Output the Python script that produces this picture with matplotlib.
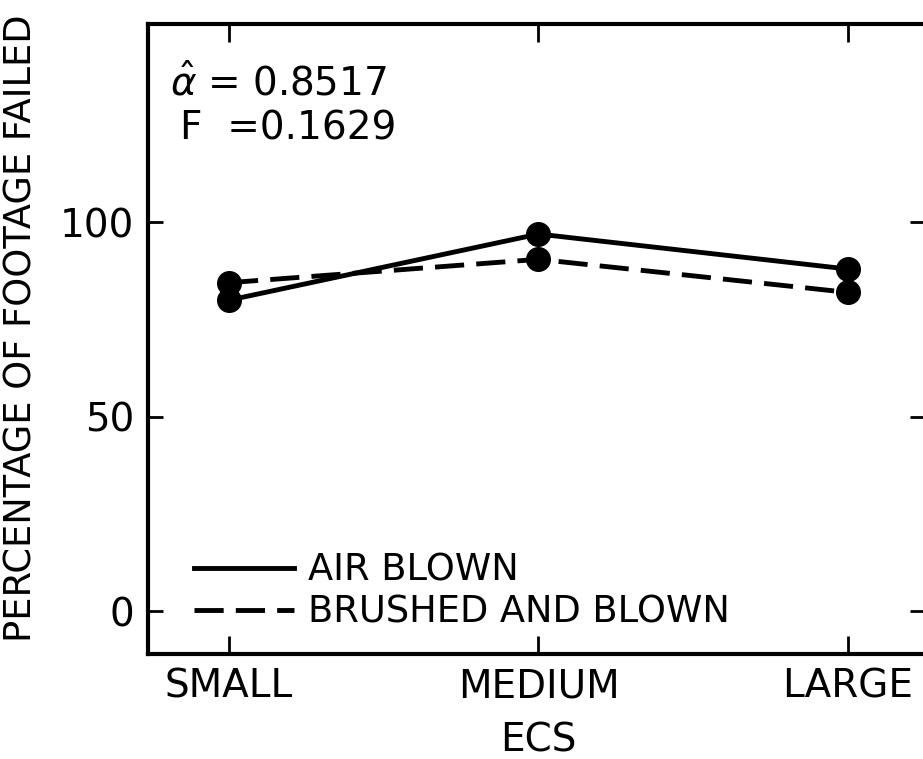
import numpy as np
import matplotlib
matplotlib.use('Agg')
import matplotlib.pyplot as plt
from matplotlib.lines import Line2D

# ECS size classes and percentage of footage failed for each cleaning method
sizes = ['SMALL', 'MEDIUM', 'LARGE']
air_blown = [80, 97, 88]
brushed_blown = [84.5, 90.5, 82]
yticks = [0, 50, 100]

plt.rcParams['font.family'] = ['DejaVu Sans']

W, H = 923, 759
fig = plt.figure(figsize=(W / 100, H / 100), dpi=100)
ax = fig.add_axes([0.1603, 0.1383, 0.8418, 0.830])

dashed = (0, (6, 2.5))
x = np.arange(len(sizes))
ax.plot(x, air_blown, color='black', lw=3.5, marker='o', ms=17)
ax.plot(x, brushed_blown, color='black', lw=3.5, marker='o', ms=17,
        linestyle=dashed)

ax.set_xlim(-0.262, 2.249)
ax.set_ylim(-11, 151)
ax.set_xticks(x, labels=sizes)
ax.set_yticks(yticks, labels=[str(v) for v in yticks])

ax.tick_params(axis='both', direction='in', top=True, right=True,
               width=2, labelsize=28, pad=10)
ax.tick_params(axis='x', length=13)
ax.tick_params(axis='y', length=11)
for s in ax.spines.values():
    s.set_linewidth(3)

ax.set_ylabel('PERCENTAGE OF FOOTAGE FAILED', fontsize=26.5)
ax.yaxis.set_label_coords(-0.139, 0.517)
fig.text(538 / W, 1 - 740 / H, 'ECS', fontsize=28, ha='center', va='center')

# fit statistics, placed by pixel from the top-left corner
fig.text(170 / W, 1 - 95 / H, r'$\hat{\alpha}$ = 0.8517', fontsize=28)
fig.text(180 / W, 1 - 140 / H, 'F  =0.1629', fontsize=28)

handles = [
    Line2D([], [], color='black', lw=3.5),
    Line2D([], [], color='black', lw=3.5, linestyle=dashed),
]
ax.legend(handles, ['AIR BLOWN', 'BRUSHED AND BLOWN'], loc='lower left',
          bbox_to_anchor=(0.017, -0.016), frameon=False, fontsize=26.5,
          handlelength=2.7, handletextpad=0.4, labelspacing=0.15)

fig.savefig('out.png', dpi=100)
